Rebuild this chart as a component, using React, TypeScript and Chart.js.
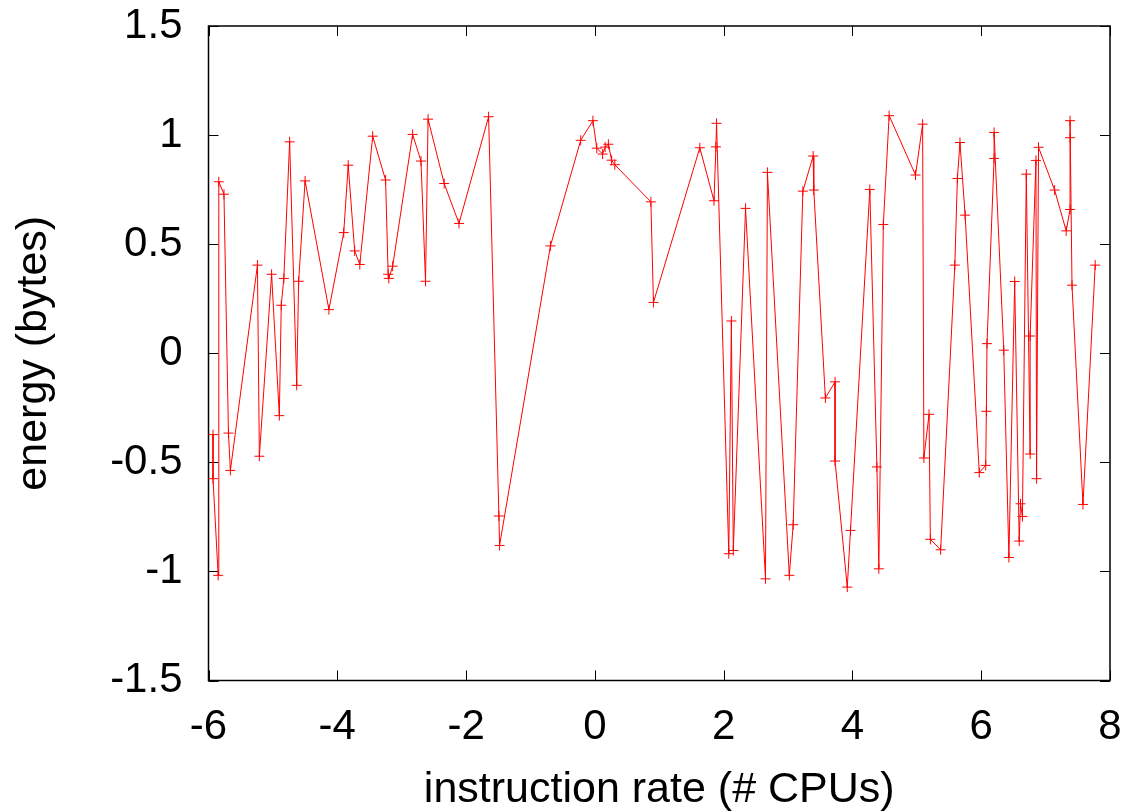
import { useEffect, useRef } from 'react';
import { Chart, registerables } from 'chart.js';

Chart.register(...registerables);

const xValues = [
  -5.93, -5.93, -5.85, -5.84, -5.76, -5.69, -5.66, -5.24, -5.21, -5.02,
  -4.90, -4.87, -4.83, -4.74, -4.63, -4.60, -4.50, -4.13, -3.90, -3.83,
  -3.73, -3.65, -3.45, -3.25, -3.21, -3.20, -3.14, -2.83, -2.70, -2.63,
  -2.59, -2.34, -2.11, -1.65, -1.49, -1.48, -0.69, -0.22, -0.03, 0.03,
  0.12, 0.16, 0.21, 0.26, 0.31, 0.87, 0.91, 1.63, 1.85, 1.88,
  1.89, 2.08, 2.12, 2.15, 2.34, 2.65, 2.68, 3.02, 3.08, 3.23,
  3.39, 3.40, 3.58, 3.73, 3.73, 3.92, 3.97, 4.27, 4.38, 4.41,
  4.48, 4.57, 4.98, 5.09, 5.11, 5.19, 5.21, 5.37, 5.59, 5.63,
  5.67, 5.75, 5.97, 6.07, 6.08, 6.09, 6.20, 6.20, 6.35, 6.43,
  6.52, 6.59, 6.61, 6.64, 6.70, 6.76, 6.76, 6.85, 6.86, 6.89,
  7.14, 7.32, 7.38, 7.38, 7.38, 7.41, 7.58, 7.77,
];

const yValues = [
  -0.373, -0.575, -1.018, 0.786, 0.729, -0.366, -0.537, 0.404, -0.472, 0.362,
  -0.286, 0.220, 0.343, 0.969, -0.147, 0.330, 0.790, 0.200, 0.553, 0.862,
  0.469, 0.407, 0.995, 0.794, 0.362, 0.343, 0.399, 1.003, 0.881, 0.330,
  1.073, 0.778, 0.595, 1.084, -0.746, -0.881, 0.492, 0.976, 1.066, 0.940,
  0.913, 0.945, 0.958, 0.885, 0.864, 0.694, 0.233, 0.942, 0.699, 0.946,
  1.054, -0.919, 0.148, -0.904, 0.664, -1.034, 0.829, -1.018, -0.786, 0.743,
  0.904, 0.748, -0.205, -0.131, -0.494, -1.072, -0.812, 0.751, -0.521, -0.988,
  0.590, 1.089, 0.817, 1.050, -0.480, -0.280, -0.853, -0.901, 0.404, 0.801,
  0.966, 0.633, -0.547, -0.514, -0.266, 0.044, 0.893, 1.012, 0.014, -0.936,
  0.329, -0.861, -0.690, -0.748, 0.821, -0.462, 0.079, 0.884, -0.575, 0.944,
  0.748, 0.561, 0.659, 0.988, 1.066, 0.312, -0.693, 0.404,
];

const xTicks = [-6, -4, -2, 0, 2, 4, 6, 8];
const yTicks = [-1.5, -1, -0.5, 0, 0.5, 1, 1.5];
const xTitle = 'instruction rate (# CPUs)';
const yTitle = 'energy (bytes)';

const FONT = "'Liberation Sans', Arial, Helvetica, sans-serif";

const framePlugin = {
  id: 'frame',
  beforeDatasetsDraw(chart: any) {
    const { ctx, chartArea } = chart;
    const { left, right, top, bottom } = chartArea;
    const xs = chart.scales.x;
    const ys = chart.scales.y;
    const tl = 10;
    ctx.save();
    ctx.strokeStyle = '#000';
    ctx.lineWidth = 1;
    ctx.beginPath();
    for (const v of xTicks) {
      const px = Math.round(xs.getPixelForValue(v)) + 0.5;
      ctx.moveTo(px, bottom);
      ctx.lineTo(px, bottom - tl);
      ctx.moveTo(px, top);
      ctx.lineTo(px, top + tl);
    }
    for (const v of yTicks) {
      const py = Math.round(ys.getPixelForValue(v)) + 0.5;
      ctx.moveTo(left, py);
      ctx.lineTo(left + tl, py);
      ctx.moveTo(right, py);
      ctx.lineTo(right - tl, py);
    }
    ctx.stroke();
    ctx.lineWidth = 1.5;
    ctx.strokeRect(left, top, right - left, bottom - top);
    ctx.restore();
  },
};

export default function App() {
  const ref = useRef<HTMLCanvasElement | null>(null);

  useEffect(() => {
    if (!ref.current) return;
    const points = xValues.map((x, i) => ({ x, y: yValues[i] }));
    const chart = new Chart(ref.current, {
      type: 'scatter',
      data: {
        datasets: [
          {
            data: points,
            showLine: true,
            borderColor: '#ff0000',
            backgroundColor: '#ff0000',
            borderWidth: 1,
            pointStyle: 'cross',
            pointRadius: 5,
            pointBorderWidth: 1,
            pointBorderColor: '#ff0000',
            pointHoverRadius: 5,
            tension: 0,
          },
        ],
      },
      options: {
        responsive: false,
        animation: false,
        events: [],
        layout: { autoPadding: false, padding: { top: 26, right: 21, left: 0, bottom: 0 } },
        plugins: {
          legend: { display: false },
          tooltip: { enabled: false },
        },
        scales: {
          x: {
            type: 'linear',
            min: -6,
            max: 8,
            afterBuildTicks: (scale: any) => {
              scale.ticks = xTicks.map((v) => ({ value: v }));
            },
            afterFit: (scale: any) => {
              scale.height = 130.5;
            },
            grid: { display: false, drawTicks: true, tickLength: 22 },
            border: { display: false },
            ticks: {
              color: '#000',
              padding: 0,
              maxRotation: 0,
              font: { family: FONT, size: 42 },
              callback: (v: any) => String(v),
            },
            title: {
              display: true,
              text: xTitle,
              color: '#000',
              font: { family: FONT, size: 43 },
              padding: { top: 0, bottom: -5 },
            },
          },
          y: {
            type: 'linear',
            min: -1.5,
            max: 1.5,
            afterBuildTicks: (scale: any) => {
              scale.ticks = yTicks.map((v) => ({ value: v }));
            },
            afterFit: (scale: any) => {
              scale.width = 208.5;
            },
            grid: { display: false, drawTicks: true, tickLength: 26 },
            border: { display: false },
            ticks: {
              color: '#000',
              padding: 0,
              font: { family: FONT, size: 42 },
              callback: (v: any) => String(v),
            },
            title: {
              display: true,
              text: yTitle,
              color: '#000',
              font: { family: FONT, size: 43 },
              padding: { top: 8, bottom: 0 },
            },
          },
        },
      },
      plugins: [framePlugin],
    });
    return () => chart.destroy();
  }, []);

  return (
    <div style={{ position: 'absolute', left: 0, top: 0, width: 1131, height: 811, background: '#fff' }}>
      <canvas ref={ref} width={1131} height={811} style={{ display: 'block' }} />
    </div>
  );
}
